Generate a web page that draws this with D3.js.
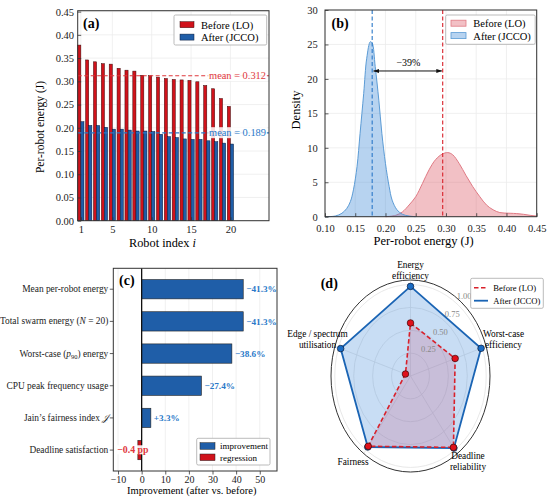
<!DOCTYPE html>
<html>
<head>
<meta charset="utf-8">
<script src="https://cdn.jsdelivr.net/npm/d3@7"></script>
<style>
  body { margin: 0; background: #fff; }
  svg { display: block; font-family: "Liberation Serif", "Times New Roman", serif; }
  .grid line { stroke: #ececec; stroke-width: 0.8; }
  .axis path { display: none; }
  .axis line { stroke: #333; stroke-width: 0.8; }
  .axis text { fill: #222; }
  .frame { fill: none; stroke: #333; stroke-width: 1; }
  .legend-box { fill: #fff; stroke: #aaa; stroke-width: 0.8; }
</style>
</head>
<body>
<div id="chart"></div>
<script>
// ---- data ----
// (a) per-robot energy
const robotIndex = [1, 2, 3, 4, 5, 6, 7, 8, 9, 10, 11, 12, 13, 14, 15, 16, 17, 18, 19, 20];
const energyBefore = [0.378, 0.346, 0.342, 0.338, 0.337, 0.328, 0.324, 0.322, 0.313, 0.312,
                      0.309, 0.306, 0.304, 0.303, 0.302, 0.299, 0.291, 0.284, 0.263, 0.246];
const energyAfter = [0.213, 0.205, 0.205, 0.201, 0.197, 0.197, 0.195, 0.193, 0.193, 0.192,
                     0.186, 0.181, 0.179, 0.176, 0.175, 0.175, 0.172, 0.170, 0.167, 0.165];
const meanBefore = 0.312;
const meanAfter = 0.189;
const xTicksA = [1, 5, 10, 15, 20];
const yTicksA = [0, 0.05, 0.10, 0.15, 0.20, 0.25, 0.30, 0.35, 0.40, 0.45];

// (b) density of per-robot energy, [energy, density]
const kdeAfter = [[0.100, 0], [0.117, 0.1], [0.128, 0.5], [0.136, 1.2], [0.142, 2.2], [0.147, 3.9],
                  [0.153, 7.3], [0.158, 12.1], [0.164, 17.9], [0.169, 23.0], [0.175, 25.4], [0.178, 25.2],
                  [0.183, 21.8], [0.189, 16.9], [0.194, 12.1], [0.200, 7.7], [0.206, 4.4], [0.211, 2.4],
                  [0.219, 1.0], [0.228, 0.35], [0.239, 0.1], [0.250, 0]];
const kdeBefore = [[0.200, 0], [0.217, 0.2], [0.228, 0.7], [0.239, 1.7], [0.250, 2.9], [0.261, 4.8],
                   [0.272, 6.8], [0.283, 8.3], [0.294, 9.1], [0.303, 9.3], [0.311, 9.0], [0.322, 7.7],
                   [0.333, 6.0], [0.344, 4.4], [0.356, 2.9], [0.367, 1.7], [0.378, 1.0], [0.389, 0.6],
                   [0.406, 0.5], [0.417, 0.45], [0.428, 0.35], [0.439, 0.2], [0.450, 0.1]];
const centreAfter = 0.178;
const centreBefore = 0.2946;
const arrowLevel = 21.15;
const arrowLabel = '\u221239%';
const xTicksB = [0.10, 0.15, 0.20, 0.25, 0.30, 0.35, 0.40, 0.45];
const yTicksB = [0, 5, 10, 15, 20, 25, 30];

// (c) improvement per metric
const metricLabels = [
  [{t: 'Mean per-robot energy'}],
  [{t: 'Total swarm energy ('}, {t: 'N', it: true}, {t: ' = 20)'}],
  [{t: 'Worst-case ('}, {t: 'p', it: true}, {t: '90', sub: true}, {t: ') energy'}],
  [{t: 'CPU peak frequency usage'}],
  [{t: 'Jain\u2019s fairness index '}, {t: '\uD835\uDCA5', it: true}],
  [{t: 'Deadline satisfaction'}]
];
const improvement = [43.0, 43.0, 38.2, 25.3, 3.9, -1.6];
const improvementText = ['\u221241.3%', '\u221241.3%', '\u221238.6%', '\u221227.4%', '+3.3%', '\u22120.4 pp'];
const xTicksC = [-10, 0, 10, 20, 30, 40, 50];

// (d) radar
const radarAxes = [['Energy', 'efficiency'], ['Worst-case', 'efficiency'], ['Deadline', 'reliability'],
                   ['Fairness'], ['Edge / spectrum', 'utilisation']];
const radarBefore = [0.58, 0.62, 0.965, 0.95, 0.07];
const radarAfter = [0.98, 0.98, 0.975, 0.96, 0.97];
const radarTicks = [0.25, 0.50, 0.75, 1.00];

// ---- colours ----
const RED = '#d0121b', BLUE = '#1f5ea8';
const RED_TXT = '#e0383d', BLUE_TXT = '#2a78c8';

const svg = d3.select('#chart').append('svg').attr('width', 550).attr('height', 501);

const defs = svg.append('defs');
defs.append('marker')
  .attr('id', 'arrow').attr('viewBox', '0 0 10 10').attr('refX', 9).attr('refY', 5)
  .attr('markerWidth', 6).attr('markerHeight', 6).attr('orient', 'auto-start-reverse')
  .append('path').attr('d', 'M0,1.5 L10,5 L0,8.5 Z').attr('fill', '#111');

// d3 axes set their own sans-serif font; drop it so the serif family applies
function styleTicks(g, size) {
  g.attr('font-family', null).attr('font-size', null);
  g.selectAll('text').attr('font-size', size);
}

function legendBox(g, x, y, w, h) {
  g.append('rect').attr('class', 'legend-box').attr('x', x).attr('y', y).attr('width', w).attr('height', h).attr('rx', 1.5);
}

// ================= (a) =================
(function() {
  const g = svg.append('g');
  const xA = d3.scaleLinear().domain([0.6, 24.9]).range([77.7, 269]);
  const yA = d3.scaleLinear().domain([0, 0.452]).range([220.7, 10.7]);
  const [x0, x1] = xA.range(), [y1, y0] = yA.range();

  const grid = g.append('g').attr('class', 'grid');
  grid.selectAll('.gv').data(xTicksA).enter().append('line')
    .attr('x1', d => xA(d)).attr('x2', d => xA(d)).attr('y1', y0).attr('y2', y1);
  grid.selectAll('.gh').data(yTicksA).enter().append('line')
    .attr('x1', x0).attr('x2', x1).attr('y1', d => yA(d)).attr('y2', d => yA(d));

  const bw = 0.4;
  g.selectAll('.bb').data(robotIndex).enter().append('rect')
    .attr('x', (d, i) => xA(d - bw)).attr('width', xA(bw) - xA(0))
    .attr('y', (d, i) => yA(energyBefore[i])).attr('height', (d, i) => yA(0) - yA(energyBefore[i]))
    .attr('fill', RED).attr('stroke', '#3a0a0a').attr('stroke-width', 0.5);
  g.selectAll('.ba').data(robotIndex).enter().append('rect')
    .attr('x', d => xA(d)).attr('width', xA(bw) - xA(0))
    .attr('y', (d, i) => yA(energyAfter[i])).attr('height', (d, i) => yA(0) - yA(energyAfter[i]))
    .attr('fill', BLUE).attr('stroke', '#0a1a3a').attr('stroke-width', 0.5);

  // mean lines
  [[meanBefore, RED_TXT], [meanAfter, BLUE_TXT]].forEach(([m, c]) => {
    g.append('line').attr('x1', x0).attr('x2', x1).attr('y1', yA(m)).attr('y2', yA(m))
      .attr('stroke', c).attr('stroke-width', 1.1).attr('stroke-dasharray', '4,2.5');
    const t = g.append('text').attr('x', x1 - 3).attr('y', yA(m) + 3.3).attr('text-anchor', 'end')
      .attr('font-size', 10.4).attr('fill', c).text('mean = ' + m.toFixed(3));
    const bb = t.node().getBBox();
    g.insert('rect', () => t.node()).attr('x', bb.x - 1).attr('y', bb.y).attr('width', bb.width + 2).attr('height', bb.height)
      .attr('fill', '#fff').attr('opacity', 0.85);
  });

  g.append('g').attr('class', 'axis').attr('transform', `translate(${x0},0)`)
    .call(d3.axisLeft(yA).tickValues(yTicksA).tickFormat(d3.format('.2f')).tickSize(-3.5).tickPadding(3.7))
    .call(styleTicks, 10.5);
  g.append('g').attr('class', 'axis').attr('transform', `translate(0,${y1})`)
    .call(d3.axisBottom(xA).tickValues(xTicksA).tickFormat(d3.format('d')).tickSize(-3.5).tickPadding(4.5))
    .call(styleTicks, 10.5);
  g.append('rect').attr('class', 'frame').attr('x', x0).attr('y', y0).attr('width', x1 - x0).attr('height', y1 - y0);

  g.append('text').attr('x', 83).attr('y', 28).attr('font-size', 14).attr('font-weight', 'bold').text('(a)');

  const xl = g.append('text').attr('x', 162.5).attr('y', 246.5).attr('text-anchor', 'middle').attr('font-size', 12.3);
  xl.append('tspan').text('Robot index ');
  xl.append('tspan').attr('font-style', 'italic').text('i');
  g.append('text').attr('transform', 'translate(44,127) rotate(-90)').attr('text-anchor', 'middle')
    .attr('font-size', 11.5).text('Per-robot energy (J)');

  const lg = g.append('g');
  legendBox(lg, 174, 15, 92.7, 30);
  [['Before (LO)', RED, '#3a0a0a'], ['After (JCCO)', BLUE, '#0a1a3a']].forEach(([lab, c, s], i) => {
    lg.append('rect').attr('x', 180).attr('y', 21.7 + i * 12.4).attr('width', 14).attr('height', 6)
      .attr('fill', c).attr('stroke', s).attr('stroke-width', 0.5);
    lg.append('text').attr('x', 201).attr('y', 28.6 + i * 12.4).attr('font-size', 10.5).text(lab);
  });
})();

// ================= (b) =================
(function() {
  const g = svg.append('g');
  const xB = d3.scaleLinear().domain([0.10, 0.45]).range([325, 536.7]);
  const yB = d3.scaleLinear().domain([0, 30]).range([216.7, 10]);
  const [x0, x1] = xB.range(), [y1, y0] = yB.range();

  const grid = g.append('g').attr('class', 'grid');
  grid.selectAll('.gv').data(xTicksB).enter().append('line')
    .attr('x1', d => xB(d)).attr('x2', d => xB(d)).attr('y1', y0).attr('y2', y1);
  grid.selectAll('.gh').data(yTicksB).enter().append('line')
    .attr('x1', x0).attr('x2', x1).attr('y1', d => yB(d)).attr('y2', d => yB(d));

  const area = d3.area().x(d => xB(d[0])).y0(yB(0)).y1(d => yB(d[1])).curve(d3.curveCatmullRom);
  const line = d3.line().x(d => xB(d[0])).y(d => yB(d[1])).curve(d3.curveCatmullRom);

  g.append('path').datum(kdeBefore).attr('d', area).attr('fill', '#d94a5a').attr('fill-opacity', 0.35);
  g.append('path').datum(kdeBefore).attr('d', line).attr('fill', 'none').attr('stroke', '#e07a84').attr('stroke-width', 1);
  g.append('path').datum(kdeAfter).attr('d', area).attr('fill', '#4a90d9').attr('fill-opacity', 0.4);
  g.append('path').datum(kdeAfter).attr('d', line).attr('fill', 'none').attr('stroke', '#5b9bd5').attr('stroke-width', 1);

  g.append('line').attr('x1', xB(centreAfter)).attr('x2', xB(centreAfter)).attr('y1', y0).attr('y2', y1)
    .attr('stroke', '#2a78c8').attr('stroke-width', 1.1).attr('stroke-dasharray', '4,2.5');
  g.append('line').attr('x1', xB(centreBefore)).attr('x2', xB(centreBefore)).attr('y1', y0).attr('y2', y1)
    .attr('stroke', '#d8202a').attr('stroke-width', 1.1).attr('stroke-dasharray', '4,2.5');

  g.append('line').attr('x1', xB(centreAfter) + 1.5).attr('x2', xB(centreBefore) - 1)
    .attr('y1', yB(arrowLevel)).attr('y2', yB(arrowLevel))
    .attr('stroke', '#111').attr('stroke-width', 1)
    .attr('marker-start', 'url(#arrow)').attr('marker-end', 'url(#arrow)');
  g.append('text').attr('x', xB((centreAfter + centreBefore) / 2) + 1).attr('y', yB(arrowLevel) - 5)
    .attr('text-anchor', 'middle').attr('font-size', 10).text(arrowLabel);

  g.append('g').attr('class', 'axis').attr('transform', `translate(${x0},0)`)
    .call(d3.axisLeft(yB).tickValues(yTicksB).tickSize(-3.5).tickPadding(7.3))
    .call(styleTicks, 10.5);
  g.append('g').attr('class', 'axis').attr('transform', `translate(0,${y1})`)
    .call(d3.axisBottom(xB).tickValues(xTicksB).tickFormat(d3.format('.2f')).tickSize(-3.5).tickPadding(7.8))
    .call(styleTicks, 10.5);
  g.append('rect').attr('class', 'frame').attr('x', x0).attr('y', y0).attr('width', x1 - x0).attr('height', y1 - y0);

  g.append('text').attr('x', 331.5).attr('y', 27.5).attr('font-size', 14).attr('font-weight', 'bold').text('(b)');
  g.append('text').attr('x', 423.7).attr('y', 245).attr('text-anchor', 'middle').attr('font-size', 12.5).text('Per-robot energy (J)');
  g.append('text').attr('transform', 'translate(300,110) rotate(-90)').attr('text-anchor', 'middle')
    .attr('font-size', 12.5).text('Density');

  const lg = g.append('g');
  legendBox(lg, 445.7, 15, 89.5, 29.3);
  [['Before (LO)', '#d94a5a', 0.35, '#e07a84'], ['After (JCCO)', '#4a90d9', 0.4, '#5b9bd5']].forEach(([lab, c, o, s], i) => {
    lg.append('rect').attr('x', 451).attr('y', 20.2 + i * 12.4).attr('width', 15).attr('height', 6)
      .attr('fill', c).attr('fill-opacity', o).attr('stroke', s).attr('stroke-width', 0.8);
    lg.append('text').attr('x', 473.3).attr('y', 27.3 + i * 12.4).attr('font-size', 10.5).text(lab);
  });
})();

// ================= (c) =================
(function() {
  const g = svg.append('g');
  const rows = d3.range(metricLabels.length);
  const xC = d3.scaleLinear().domain([-12, 57.3]).range([113.3, 277]);
  const yC = d3.scaleBand().domain(rows).range([268.3, 471]).paddingInner(0.4).paddingOuter(0.35);
  const [x0, x1] = xC.range(), [y0, y1] = yC.range();

  const grid = g.append('g').attr('class', 'grid');
  grid.selectAll('.gv').data(xTicksC).enter().append('line')
    .attr('x1', d => xC(d)).attr('x2', d => xC(d)).attr('y1', y0).attr('y2', y1);

  g.selectAll('.bar').data(improvement).enter().append('rect')
    .attr('x', d => xC(Math.min(0, d))).attr('width', d => Math.abs(xC(d) - xC(0)))
    .attr('y', (d, i) => yC(i)).attr('height', yC.bandwidth())
    .attr('fill', d => d >= 0 ? BLUE : RED).attr('stroke', '#222').attr('stroke-width', 0.6);

  g.append('line').attr('x1', xC(0)).attr('x2', xC(0)).attr('y1', y0).attr('y2', y1)
    .attr('stroke', '#111').attr('stroke-width', 1.3);

  improvement.forEach((v, i) => {
    const yc = yC(i) + yC.bandwidth() / 2 + 3.2;
    if (v >= 0) {
      g.append('text').attr('x', xC(v) + 3).attr('y', yc).attr('font-size', 9.2).attr('font-weight', 'bold')
        .attr('fill', BLUE_TXT).text(improvementText[i]);
    } else {
      const t = g.append('text').attr('x', xC(v) - 5).attr('y', yc).attr('text-anchor', 'middle')
        .attr('font-size', 9.8).attr('font-weight', 'bold').attr('fill', RED_TXT).text(improvementText[i]);
      const bb = t.node().getBBox();
      g.insert('rect', () => t.node()).attr('x', bb.x - 0.5).attr('y', bb.y + 1).attr('width', bb.width + 1).attr('height', bb.height - 2)
        .attr('fill', '#fff').attr('opacity', 0.9);
    }
  });

  g.append('g').attr('class', 'axis').attr('transform', `translate(0,${y1})`)
    .call(d3.axisBottom(xC).tickValues(xTicksC).tickFormat(d => d < 0 ? '\u2212' + Math.abs(d) : d).tickSize(3.5).tickPadding(1.5))
    .call(styleTicks, 10);
  const ya = g.append('g').attr('class', 'axis').attr('transform', `translate(${x0},0)`)
    .call(d3.axisLeft(yC).tickSize(3.5).tickPadding(1.5).tickFormat(''))
    .call(styleTicks, 9.4);
  ya.selectAll('.tick').each(function(d) {
    const t = d3.select(this).select('text').attr('dy', '0.32em');
    metricLabels[d].forEach(seg => {
      const s = t.append('tspan').text(seg.t);
      if (seg.it) s.attr('font-style', 'italic');
      if (seg.sub) s.attr('font-size', 6.5).attr('baseline-shift', '-25%');
    });
  });
  g.append('rect').attr('class', 'frame').attr('x', x0).attr('y', y0).attr('width', x1 - x0).attr('height', y1 - y0);

  g.append('text').attr('x', 119).attr('y', 285).attr('font-size', 14).attr('font-weight', 'bold').text('(c)');
  g.append('text').attr('x', 191.7).attr('y', 494).attr('text-anchor', 'middle').attr('font-size', 10.5)
    .text('Improvement (after vs. before)');

  const lg = g.append('g');
  legendBox(lg, 196.7, 438.3, 73.3, 26.7);
  [['improvement', BLUE], ['regression', RED]].forEach(([lab, c], i) => {
    lg.append('rect').attr('x', 200).attr('y', 442.7 + i * 11.3).attr('width', 15).attr('height', 6.6)
      .attr('fill', c).attr('stroke', '#222').attr('stroke-width', 0.5);
    lg.append('text').attr('x', 220).attr('y', 449.3 + i * 11.3).attr('font-size', 9).text(lab);
  });
})();

// ================= (d) =================
(function() {
  const g = svg.append('g');
  const cx = 410.5, cy = 376, rx = 79.5, ry = 96;
  const rD = d3.scaleLinear().domain([0, 1.05]).range([0, 1]);
  const ang = d3.scaleLinear().domain([0, radarAxes.length]).range([0, 2 * Math.PI]);
  const pt = (i, v) => [cx + rD(v) * rx * Math.sin(ang(i)), cy - rD(v) * ry * Math.cos(ang(i))];

  // grid rings and spokes
  g.selectAll('.ring').data(radarTicks).enter().append('ellipse')
    .attr('cx', cx).attr('cy', cy).attr('rx', d => rD(d) * rx).attr('ry', d => rD(d) * ry)
    .attr('fill', 'none').attr('stroke', '#e2e2e2').attr('stroke-width', 0.8);
  g.selectAll('.spoke').data(radarAxes).enter().append('line')
    .attr('x1', cx).attr('y1', cy)
    .attr('x2', (d, i) => pt(i, 1.05)[0]).attr('y2', (d, i) => pt(i, 1.05)[1])
    .attr('stroke', '#e2e2e2').attr('stroke-width', 0.8);

  const poly = d3.line().curve(d3.curveLinearClosed);
  const after = radarAfter.map((v, i) => pt(i, v));
  const before = radarBefore.map((v, i) => pt(i, v));

  g.append('path').attr('d', poly(after)).attr('fill', '#4a90d9').attr('fill-opacity', 0.3).attr('stroke', 'none');
  g.append('path').attr('d', poly(before)).attr('fill', '#c8507a').attr('fill-opacity', 0.22).attr('stroke', 'none');
  g.append('path').attr('d', poly(after)).attr('fill', 'none').attr('stroke', '#1a64b4').attr('stroke-width', 1.8);
  g.append('path').attr('d', poly(before)).attr('fill', 'none').attr('stroke', '#d8202a').attr('stroke-width', 1.6)
    .attr('stroke-dasharray', '4.5,2.5');

  g.selectAll('.pa').data(after).enter().append('circle')
    .attr('cx', d => d[0]).attr('cy', d => d[1]).attr('r', 3.3)
    .attr('fill', '#1a6cc4').attr('stroke', '#0a1a3a').attr('stroke-width', 0.7);
  g.selectAll('.pb').data(before).enter().append('circle')
    .attr('cx', d => d[0]).attr('cy', d => d[1]).attr('r', 3.3)
    .attr('fill', '#e0101b').attr('stroke', '#3a0a0a').attr('stroke-width', 0.7);

  // frame
  g.append('ellipse').attr('cx', cx).attr('cy', cy).attr('rx', rx).attr('ry', ry)
    .attr('fill', 'none').attr('stroke', '#333').attr('stroke-width', 1);

  // ring labels
  const la = 39 * Math.PI / 180;
  g.selectAll('.rl').data(radarTicks).enter().append('text')
    .attr('x', d => cx + (rD(d) + 0.12) * rx * Math.sin(la))
    .attr('y', d => cy - (rD(d) + 0.12) * ry * Math.cos(la) + 3)
    .attr('text-anchor', 'middle').attr('font-size', 8.5).attr('fill', '#888')
    .text(d => d.toFixed(2));

  // axis labels
  radarAxes.forEach((lines, i) => {
    const a = ang(i);
    const lx = cx + 1.23 * rx * Math.sin(a);
    const ly = cy - 1.1 * ry * Math.cos(a) - (Math.abs(Math.sin(a)) > 0.9 ? 4 : 0);
    const t = g.append('text').attr('text-anchor', 'middle').attr('font-size', 9.3);
    lines.forEach((l, k) => {
      t.append('tspan').attr('x', lx).attr('y', ly + 3.2 + (k - (lines.length - 1) / 2) * 11).text(l);
    });
  });

  g.append('text').attr('x', 320.7).attr('y', 288).attr('font-size', 14).attr('font-weight', 'bold').text('(d)');

  const lg = g.append('g');
  legendBox(lg, 470.7, 278.3, 72.6, 30);
  lg.append('line').attr('x1', 474).attr('x2', 488).attr('y1', 287.7).attr('y2', 287.7)
    .attr('stroke', '#d8202a').attr('stroke-width', 1.6).attr('stroke-dasharray', '4.5,2.5');
  lg.append('line').attr('x1', 474).attr('x2', 488).attr('y1', 300.7).attr('y2', 300.7)
    .attr('stroke', '#1a64b4').attr('stroke-width', 1.8);
  lg.append('text').attr('x', 493.3).attr('y', 290.7).attr('font-size', 8.6).text('Before (LO)');
  lg.append('text').attr('x', 493.3).attr('y', 303.7).attr('font-size', 8.6).text('After (JCCO)');
})();
</script>
</body>
</html>
